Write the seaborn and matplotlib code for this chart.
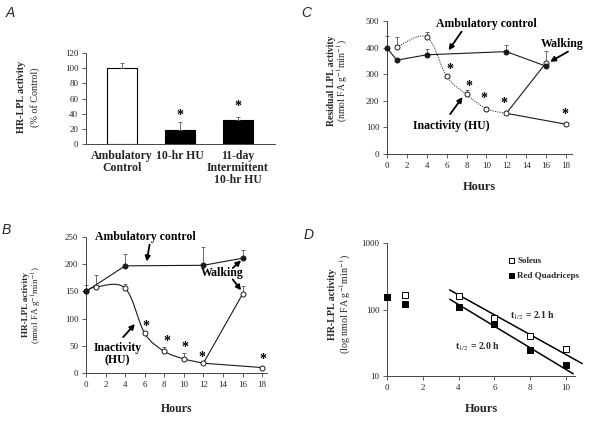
import numpy as np
import matplotlib
matplotlib.use("Agg")
import matplotlib.pyplot as plt
from matplotlib.path import Path
from matplotlib.patches import PathPatch
from matplotlib.lines import Line2D
from matplotlib.ticker import FixedLocator, NullLocator, FixedFormatter
import seaborn as sns

# Panel A - HR-LPL activity, % of control
groups_a = ["Ambulatory\nControl", "10-hr HU", "11-day\nIntermittent\n10-hr HU"]
activity_a = [100, 19, 31]
err_a = [7, 10, 4]

# Panel B - HR-LPL activity over time
amb_hours_b = [0, 4, 12, 16]
amb_b = [150, 197, 198, 211]
amb_err_b = [12, 21, 34, 15]
hu_hours_b = [0, 1, 4, 6, 8, 10, 12, 18]
hu_b = [150, 158, 156, 73, 40, 26, 18, 10]
hu_err_b = [0, 23, 7, 0, 8, 11, 0, 0]
walk_hours_b = [12, 16]
walk_b = [18, 145]
walk_err_b = [0, 15]

# Panel C - residual LPL activity over time
amb_hours_c = [0, 1, 4, 12, 16]
amb_c = [398, 353, 373, 385, 330]
amb_err_c = [44, 0, 22, 23, 0]
hu_hours_c = [1, 4, 6, 8, 10, 12, 18]
hu_c = [402, 440, 292, 224, 170, 153, 112]
hu_err_c = [38, 20, 0, 16, 8, 0, 0]
walk_hours_c = [12, 16]
walk_c = [153, 343]
walk_err_c = [0, 45]

# Panel D - log HR-LPL activity, half-life
hours_d = [0, 1, 4, 6, 8, 10]
soleus_d = [153, 166, 160, 75, 40, 25.6]
red_quad_d = [153, 121, 110, 60, 24.4, 14.8]
fit_hours_soleus = [3.5, 10.9]
fit_soleus = [197, 15.4]
fit_hours_red = [3.5, 10.4]
fit_red = [143, 10.8]

sns.set_theme(style="ticks")
plt.rcParams["font.family"] = ["Liberation Serif", "DejaVu Serif"]
plt.rcParams["mathtext.fontset"] = "stix"

LINE = "#1a1a1a"
AXC = "#444444"


def style_axes(ax):
    sns.despine(ax=ax)
    for s in ("left", "bottom"):
        ax.spines[s].set_linewidth(0.7)
        ax.spines[s].set_color(AXC)
    ax.tick_params(direction="out", length=3, width=0.6, color=AXC,
                   labelsize=6.5, pad=2.5)


def smooth_path(xs, ys):
    # excel-like smoothed connector through the data points
    pts = np.column_stack([xs, ys]).astype(float)
    ext = np.vstack([pts[0], pts, pts[-1]])
    verts = [pts[0]]
    codes = [Path.MOVETO]
    for i in range(1, len(ext) - 2):
        p0, p1, p2, p3 = ext[i - 1], ext[i], ext[i + 1], ext[i + 2]
        verts += [p1 + (p2 - p0) / 6, p2 - (p3 - p1) / 6, p2]
        codes += [Path.CURVE4] * 3
    return Path(verts, codes)


def upper_err(ax, x, y, err):
    x, y, err = np.array(x), np.array(y), np.array(err)
    m = err > 0
    ax.errorbar(x[m], y[m], yerr=[np.zeros(m.sum()), err[m]], fmt="none",
                ecolor="#555555", elinewidth=0.6, capsize=1.6, capthick=0.6,
                zorder=2, clip_on=False)


def points(ax, x, y, filled):
    sns.scatterplot(x=x, y=y, ax=ax, marker="o", s=13,
                    color=LINE if filled else "white", edgecolor=LINE,
                    linewidth=0.7, zorder=5 if filled else 4, clip_on=False)


def arrow(ax, start, tip):
    ax.annotate("", xy=tip, xytext=start,
                arrowprops=dict(arrowstyle="-|>,head_length=0.5,head_width=0.25",
                                lw=1.3, color="black", shrinkA=0, shrinkB=0,
                                mutation_scale=6))


def note(ax, x, y, s, size=8.5):
    ax.text(x, y, s, ha="center", va="center", fontsize=size,
            fontweight="bold", linespacing=1.05, color="black")


def stars(ax, pos, size=10):
    for x, y in pos:
        ax.text(x, y, "*", ha="center", va="center", fontsize=size,
                fontweight="bold", color="black")


def ylab(ax, x1, x2, y, top, bottom, size=7.2):
    ax.text(x1, y, top, transform=ax.transAxes, rotation=90, ha="center",
            va="center", fontsize=size, fontweight="bold")
    ax.text(x2, y, bottom, transform=ax.transAxes, rotation=90, ha="center",
            va="center", fontsize=size)


fig = plt.figure(figsize=(5.96, 4.23), dpi=100)
axA = fig.add_axes([0.1443, 0.6596, 0.317, 0.215])
axB = fig.add_axes([0.1443, 0.1182, 0.3037, 0.3215])
axC = fig.add_axes([0.6493, 0.6359, 0.3104, 0.3144])
axD = fig.add_axes([0.6493, 0.1111, 0.3154, 0.3144])

# ---- A
sns.barplot(x=groups_a, y=activity_a, hue=groups_a,
            palette=["white", "black", "black"], legend=False,
            width=0.52, edgecolor="black", linewidth=0.8, ax=axA)
upper_err(axA, [0, 1, 2], activity_a, err_a)
axA.set_xlim(-0.62, 2.64)
axA.set_ylim(0, 120)
axA.set_yticks(range(0, 121, 20))
style_axes(axA)
axA.tick_params(axis="x", length=0, labelsize=8.5, pad=4)
for t in axA.get_xticklabels():
    t.set_fontweight("bold")
    t.set_linespacing(1.0)
    t.set_va("top")
stars(axA, [(1, 38), (2, 50)])
ylab(axA, -0.342, -0.27, 0.516, "HR-LPL activity", "(% of Control)", 7.3)

# ---- B
axB.add_patch(PathPatch(smooth_path(hu_hours_b[:7], hu_b[:7]), fill=False,
                        edgecolor=LINE, lw=0.8, zorder=3))
sns.lineplot(x=hu_hours_b[6:], y=hu_b[6:], color=LINE, lw=0.8, ax=axB, zorder=3)
sns.lineplot(x=walk_hours_b, y=walk_b, color=LINE, lw=0.8, ax=axB, zorder=3)
sns.lineplot(x=amb_hours_b, y=amb_b, color=LINE, lw=0.8, ax=axB, zorder=3)
upper_err(axB, hu_hours_b, hu_b, hu_err_b)
upper_err(axB, walk_hours_b, walk_b, walk_err_b)
upper_err(axB, amb_hours_b, amb_b, amb_err_b)
points(axB, hu_hours_b, hu_b, False)
points(axB, walk_hours_b[1:], walk_b[1:], False)
points(axB, amb_hours_b, amb_b, True)
axB.set_xlim(0, 18.5)
axB.set_ylim(0, 250)
axB.set_xticks(range(0, 19, 2))
axB.set_yticks(range(0, 251, 50))
style_axes(axB)
axB.set_xlabel("Hours", fontsize=8.5, fontweight="bold", labelpad=10)
ylab(axB, -0.33, -0.27, 0.5, "HR-LPL activity", "(nmol FA g$^{-1}$min$^{-1}$)", 6.6)
note(axB, 6.1, 250, "Ambulatory control")
arrow(axB, (6.5, 236), (6.2, 205))
note(axB, 13.9, 184, "Walking")
arrow(axB, (15.0, 193), (15.85, 207))
arrow(axB, (15.0, 172), (15.85, 152))
note(axB, 3.2, 35, "Inactivity\n(HU)")
arrow(axB, (3.8, 66), (5.0, 90))
stars(axB, [(6.1, 86), (8.25, 57), (10.1, 46), (11.8, 28), (18.1, 24)])

# ---- C
axC.add_patch(PathPatch(smooth_path(hu_hours_c[:6], hu_c[:6]), fill=False,
                        edgecolor="#333333", lw=0.7, linestyle=(0, (1.2, 1.2)),
                        zorder=3))
sns.lineplot(x=hu_hours_c[5:], y=hu_c[5:], color=LINE, lw=0.8, ax=axC, zorder=3)
sns.lineplot(x=walk_hours_c, y=walk_c, color=LINE, lw=0.8, ax=axC, zorder=3)
sns.lineplot(x=amb_hours_c, y=amb_c, color=LINE, lw=0.8, ax=axC, zorder=3)
upper_err(axC, hu_hours_c, hu_c, hu_err_c)
upper_err(axC, walk_hours_c, walk_c, walk_err_c)
upper_err(axC, amb_hours_c, amb_c, amb_err_c)
points(axC, hu_hours_c, hu_c, False)
points(axC, walk_hours_c[1:], walk_c[1:], False)
points(axC, amb_hours_c, amb_c, True)
axC.set_xlim(0, 18.6)
axC.set_ylim(0, 500)
axC.set_xticks(range(0, 19, 2))
axC.set_yticks(range(0, 501, 100))
style_axes(axC)
axC.set_xlabel("Hours", fontsize=9, fontweight="bold", labelpad=8)
ylab(axC, -0.302, -0.24, 0.549, "Residual LPL activity", "(nmol FA g$^{-1}$min$^{-1}$)", 7.0)
note(axC, 10.0, 489, "Ambulatory control")
arrow(axC, (7.5, 460), (6.2, 390))
note(axC, 17.6, 414, "Walking")
arrow(axC, (18.2, 385), (16.4, 347))
note(axC, 6.5, 105, "Inactivity (HU)")
arrow(axC, (6.35, 150), (7.6, 214))
stars(axC, [(6.3, 318), (8.25, 254), (9.75, 210), (11.8, 191), (17.9, 150)])

# ---- D
sns.lineplot(x=fit_hours_soleus, y=fit_soleus, color="black", lw=1.1, ax=axD,
             zorder=3, clip_on=False)
sns.lineplot(x=fit_hours_red, y=fit_red, color="black", lw=1.1, ax=axD,
             zorder=3, clip_on=False)
sns.scatterplot(x=hours_d, y=soleus_d, ax=axD, marker="s", s=16, color="white",
                edgecolor="black", linewidth=0.7, zorder=4, clip_on=False)
sns.scatterplot(x=hours_d, y=red_quad_d, ax=axD, marker="s", s=16, color="black",
                edgecolor="black", linewidth=0.7, zorder=5, clip_on=False)
axD.set_yscale("log")
axD.set_ylim(10, 1000)
axD.set_xlim(0, 10.5)
axD.set_xticks(range(0, 11, 2))
axD.yaxis.set_major_locator(FixedLocator([10, 100, 1000]))
axD.yaxis.set_major_formatter(FixedFormatter(["10", "100", "1000"]))
axD.yaxis.set_minor_locator(NullLocator())
style_axes(axD)
axD.set_xlabel("Hours", fontsize=9, fontweight="bold", labelpad=8)
ylab(axD, -0.29, -0.222, 0.54, "HR-LPL activity", "(log nmol FA g$^{-1}$min$^{-1}$)", 7.2)
handles = [Line2D([], [], ls="none", marker="s", ms=3.6, mfc="white", mec="black", mew=0.7),
           Line2D([], [], ls="none", marker="s", ms=3.6, mfc="black", mec="black", mew=0.7)]
axD.legend(handles, ["Soleus", "Red Quadriceps"], loc="upper left",
           bbox_to_anchor=(0.62, 0.93), frameon=False, handlelength=0.6,
           handletextpad=0.4, labelspacing=0.75, borderpad=0,
           prop={"size": 6.5, "weight": "bold"})
axD.text(8.15, 80, "t$_{1/2}$ = 2.1 h", ha="center", va="center", fontsize=7,
         fontweight="bold")
axD.text(5.05, 27.3, "t$_{1/2}$ = 2.0 h", ha="center", va="center", fontsize=7,
         fontweight="bold")

for letter, x, y in [("A", 0.017, 0.969), ("C", 0.513, 0.969),
                     ("B", 0.010, 0.456), ("D", 0.517, 0.444)]:
    fig.text(x, y, letter, ha="center", va="center", fontsize=10,
             style="italic", family="Liberation Sans")

fig.savefig("out.png", dpi=100)
